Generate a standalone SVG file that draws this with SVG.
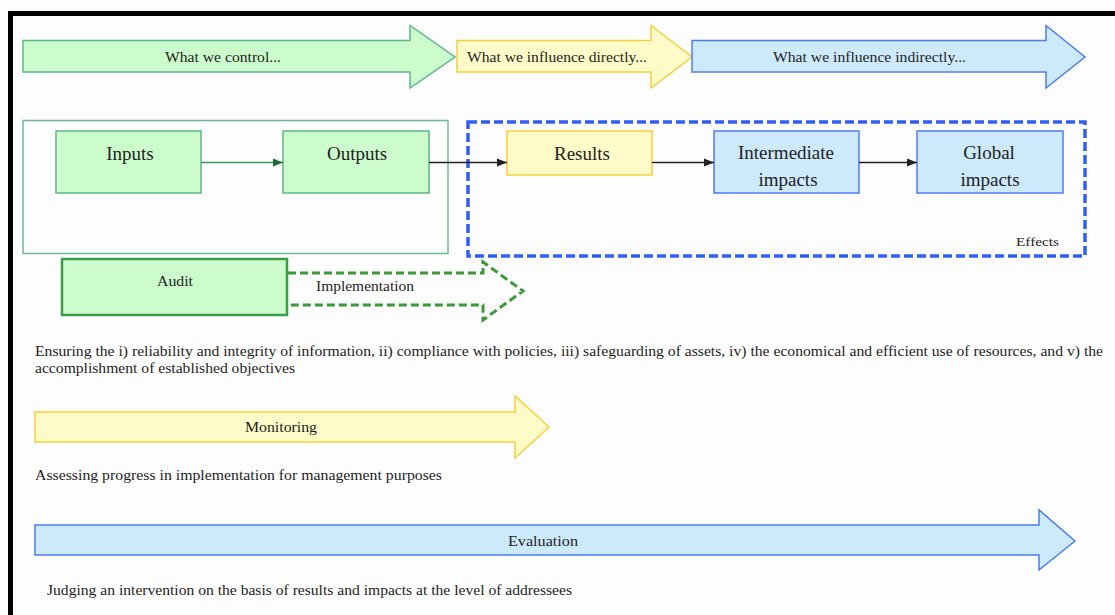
<svg xmlns="http://www.w3.org/2000/svg" width="1115" height="615" viewBox="0 0 1115 615" font-family="Liberation Serif, DejaVu Serif, serif">
<defs>
<style>
text{fill:#1e1e1e;}
.s{font-size:14px;}
.n{font-size:19px;text-anchor:middle;}
.g{fill:#ccfccc;stroke:#5db887;stroke-width:1.5;}
.y{fill:#fffbc8;stroke:#f7cf3a;stroke-width:1.5;}
.b{fill:#cde9fc;stroke:#4d7cf2;stroke-width:1.5;}
.c{fill:none;stroke:#222;stroke-width:1.5;}
</style>
<marker id="ah" viewBox="0 0 10 10" refX="10" refY="5" markerWidth="10" markerHeight="10" markerUnits="userSpaceOnUse" orient="auto"><path d="M0,1 L10,5 L0,9 Z" fill="#222"/></marker>
<marker id="ahg" viewBox="0 0 10 10" refX="10" refY="5" markerWidth="10" markerHeight="10" markerUnits="userSpaceOnUse" orient="auto"><path d="M0,1 L10,5 L0,9 Z" fill="#1f6b3a"/></marker>
</defs>
<rect x="0" y="0" width="1115" height="615" fill="#fdfdfd"/>
<rect x="8" y="11" width="1107" height="5" fill="#000"/>
<rect x="8" y="11" width="5" height="604" fill="#000"/>

<g id="arrow-control">
<path class="g" d="M23,40.5 H410 V25.5 L455,57 L410,88 V72 H23 Z"/>
<text class="s" x="223" y="62" text-anchor="middle" textLength="116" lengthAdjust="spacingAndGlyphs">What we control...</text>
</g>
<g id="arrow-direct">
<path class="y" d="M457,40.5 H651 V25.5 L692,57 L651,88 V72 H457 Z"/>
<text class="s" x="467" y="62" textLength="180" lengthAdjust="spacingAndGlyphs">What we influence directly...</text>
</g>
<g id="arrow-indirect">
<path class="b" d="M692,40.5 H1046 V25.5 L1085,57 L1046,88 V72 H692 Z"/>
<text class="s" x="773" y="62" textLength="193" lengthAdjust="spacingAndGlyphs">What we influence indirectly...</text>
</g>

<g id="control-group">
<rect x="23" y="120.5" width="425" height="133" fill="none" stroke="#6dbb92" stroke-width="1.5"/>
</g>
<g id="effects-group">
<rect x="468" y="122" width="617" height="134" fill="none" stroke="#2f5df5" stroke-width="3.5" stroke-dasharray="9,4"/>
<text x="1059" y="246" font-size="13" text-anchor="end" textLength="43" lengthAdjust="spacingAndGlyphs">Effects</text>
</g>

<g id="inputs">
<rect class="g" x="56" y="131" width="145" height="62"/>
<text class="n" x="130" y="160">Inputs</text>
</g>
<g id="outputs">
<rect class="g" x="283" y="131" width="146" height="62"/>
<text class="n" x="357" y="160">Outputs</text>
</g>
<g id="results">
<rect class="y" x="507" y="131" width="145" height="44"/>
<text class="n" x="582" y="160">Results</text>
</g>
<g id="intermediate">
<rect class="b" x="714" y="131" width="145" height="62"/>
<text class="n" x="786" y="159">Intermediate</text>
<text class="n" x="788" y="186">impacts</text>
</g>
<g id="global">
<rect class="b" x="917" y="131" width="146" height="62"/>
<text class="n" x="989" y="159">Global</text>
<text class="n" x="990" y="186">impacts</text>
</g>

<g id="connectors">
<line x1="201" y1="162.5" x2="283" y2="162.5" stroke="#3a9a66" stroke-width="1.5" marker-end="url(#ahg)"/>
<line class="c" x1="429" y1="162.5" x2="507" y2="162.5" marker-end="url(#ah)"/>
<line class="c" x1="652" y1="162.5" x2="714" y2="162.5" marker-end="url(#ah)"/>
<line class="c" x1="859" y1="162.5" x2="917" y2="162.5" marker-end="url(#ah)"/>
</g>

<g id="audit">
<rect x="62" y="259" width="225" height="56" fill="#ccfccc" stroke="#3c9c48" stroke-width="2.5"/>
<text x="175" y="286" font-size="14" text-anchor="middle" textLength="36" lengthAdjust="spacingAndGlyphs">Audit</text>
</g>
<g id="implementation">
<path d="M288,273 H483 V262 L523,291 L483,320 V305 H288" fill="none" stroke="#3a9a3a" stroke-width="3" stroke-dasharray="8,4"/>
<text x="316" y="291" font-size="14" textLength="98" lengthAdjust="spacingAndGlyphs">Implementation</text>
</g>

<g id="audit-desc">
<text class="s" x="35" y="356" textLength="1068" lengthAdjust="spacingAndGlyphs">Ensuring  the i) reliability and integrity of information, ii) compliance with policies, iii) safeguarding of assets, iv) the economical and efficient use of resources, and v) the</text>
<text class="s" x="35" y="373" textLength="260" lengthAdjust="spacingAndGlyphs">accomplishment of established objectives</text>
</g>

<g id="monitoring">
<path class="y" d="M35,412 H515 V396 L549,427 L515,458 V442 H35 Z"/>
<text class="s" x="281" y="432" text-anchor="middle" textLength="72" lengthAdjust="spacingAndGlyphs">Monitoring</text>
<text class="s" x="35" y="480" textLength="407" lengthAdjust="spacingAndGlyphs">Assessing  progress in implementation for management purposes</text>
</g>

<g id="evaluation">
<path class="b" d="M35,525 H1039 V510 L1075,541 L1039,570 V555 H35 Z"/>
<text class="s" x="543" y="546" text-anchor="middle" textLength="70" lengthAdjust="spacingAndGlyphs">Evaluation</text>
<text class="s" x="47" y="595" textLength="525" lengthAdjust="spacingAndGlyphs">Judging an intervention on the basis of results and impacts at the level of addressees</text>
</g>
</svg>
